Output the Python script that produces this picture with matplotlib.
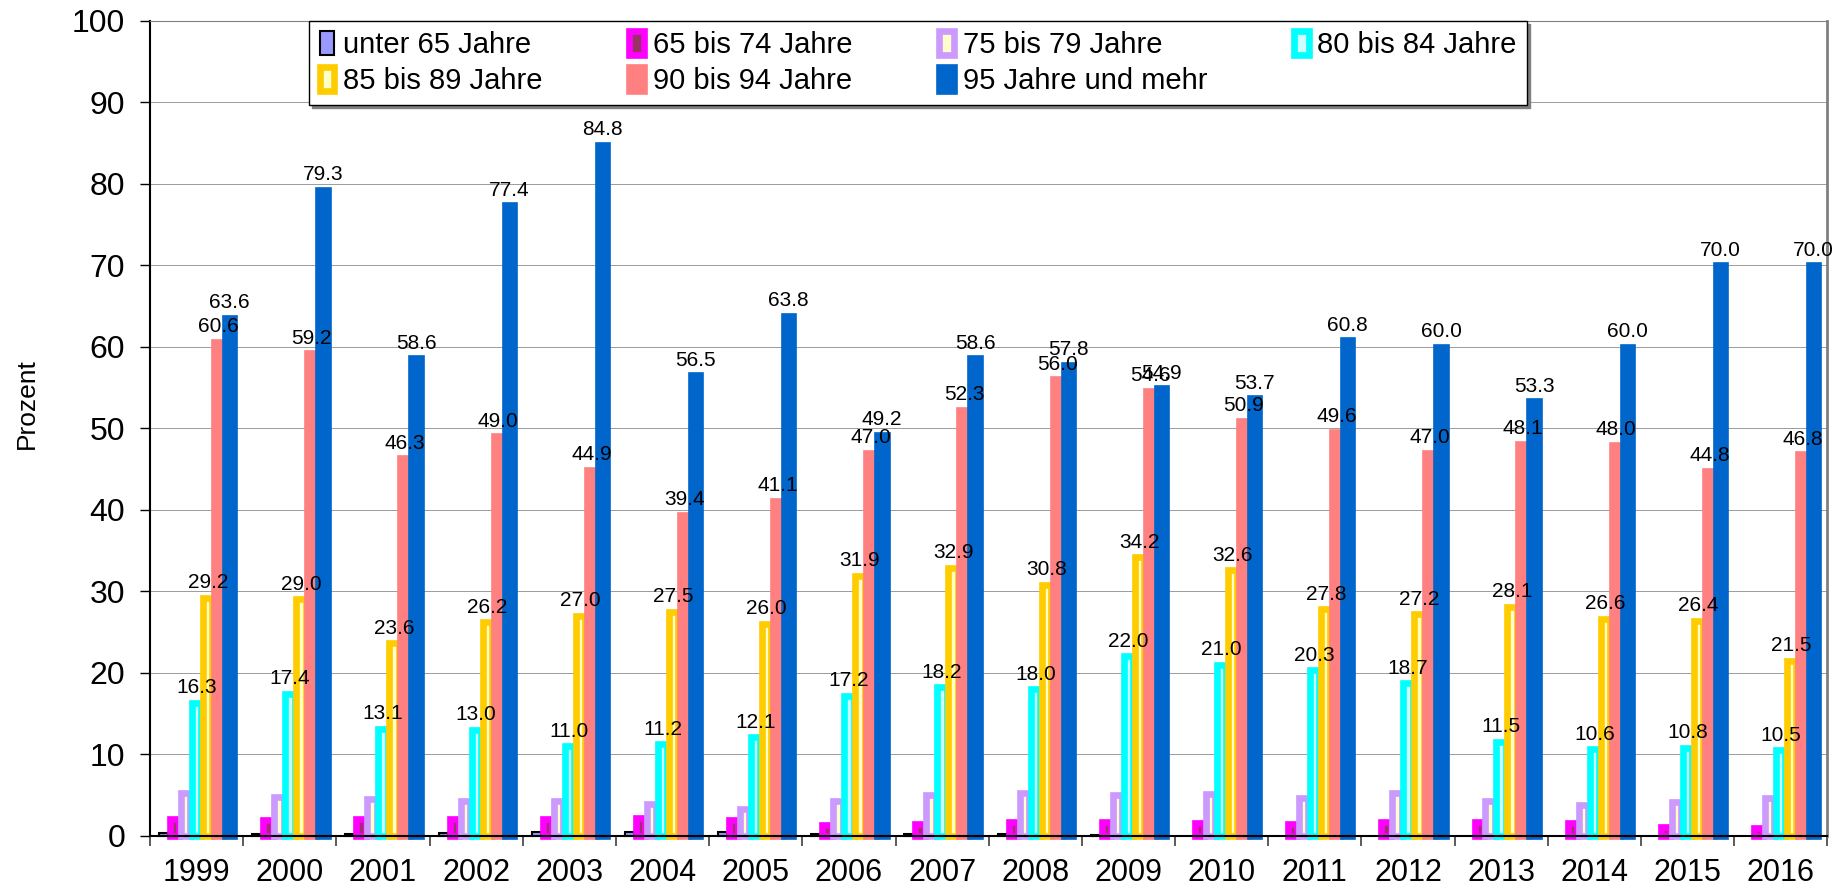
import matplotlib.pyplot as plt
import numpy as np

years = ['1999', '2000', '2001', '2002', '2003', '2004', '2005', '2006', '2007',
         '2008', '2009', '2010', '2011', '2012', '2013', '2014', '2015', '2016']

series_names = ['unter 65 Jahre', '65 bis 74 Jahre', '75 bis 79 Jahre', '80 bis 84 Jahre',
                '85 bis 89 Jahre', '90 bis 94 Jahre', '95 Jahre und mehr']

unter65 = [0.3, 0.2, 0.2, 0.3, 0.4, 0.4, 0.5, 0.2, 0.2, 0.2, 0.1, 0, 0, 0, 0, 0, 0, 0]
a65_74 = [2.1, 1.9, 2.1, 2.1, 2.0, 2.2, 1.9, 1.35, 1.5, 1.7, 1.7, 1.55, 1.5, 1.7, 1.7, 1.55, 1.1, 1.0]
a75_79 = [5.2, 4.7, 4.5, 4.3, 4.3, 3.9, 3.3, 4.3, 5.0, 5.2, 5.0, 5.1, 4.6, 5.2, 4.25, 3.8, 4.1, 4.6]
a80_84 = [16.3, 17.4, 13.1, 13.0, 11.0, 11.2, 12.1, 17.2, 18.2, 18.0, 22.0, 21.0, 20.3, 18.7, 11.5, 10.6, 10.8, 10.5]
a85_89 = [29.2, 29.0, 23.6, 26.2, 27.0, 27.5, 26.0, 31.9, 32.9, 30.8, 34.2, 32.6, 27.8, 27.2, 28.1, 26.6, 26.4, 21.5]
a90_94 = [60.6, 59.2, 46.3, 49.0, 44.9, 39.4, 41.1, 47.0, 52.3, 56.0, 54.6, 50.9, 49.6, 47.0, 48.1, 48.0, 44.8, 46.8]
a95 = [63.6, 79.3, 58.6, 77.4, 84.8, 56.5, 63.8, 49.2, 58.6, 57.8, 54.9, 53.7, 60.8, 60.0, 53.3, 60.0, 70.0, 70.0]

values = [unter65, a65_74, a75_79, a80_84, a85_89, a90_94, a95]
fills = ['#9999FF', '#993366', '#FFFFCC', '#CCFFFF', '#FFFFCC', '#FF8080', '#0066CC']
edges = ['#000000', '#FF00FF', '#CC99FF', '#00FFFF', '#FFCC00', '#FF8080', '#0066CC']
labelled = [False, False, False, True, True, True, True]

fig = plt.figure(figsize=(18.42, 8.91), dpi=100)
ax = fig.add_axes([0.0815, 0.062, 0.9105, 0.9145])

x = np.arange(len(years))
step = 0.118
width = 0.1

bars = []
for i, v in enumerate(values):
    v = np.array(v)
    lw = 1.5 if i == 0 else 4.8
    lws = np.where(v > 0, lw, 0)
    b = ax.bar(x + (i - 3) * step, v, width, color=fills[i], edgecolor=edges[i],
               linewidth=lws, label=series_names[i], clip_on=False, zorder=3)
    bars.append(b)
    if labelled[i]:
        ax.bar_label(b, labels=['%.1f' % t for t in v], padding=4, fontsize=15,
                     family='Liberation Sans', zorder=5)

ax.set_xlim(-0.5, len(years) - 0.5)
ax.set_ylim(0, 100)
ax.set_yticks(range(0, 101, 10))
ax.yaxis.grid(True, color='#8c8c8c', linewidth=0.6, zorder=0)
ax.set_axisbelow(True)

ax.set_xticks(x)
ax.set_xticklabels(years, fontsize=22, family='Liberation Sans')
ax.set_xticks(np.arange(-0.5, len(years), 1), minor=True)
ax.tick_params(axis='x', which='major', length=0, pad=16)
ax.tick_params(axis='x', which='minor', length=7, width=1.2, color='#404040')
ax.tick_params(axis='y', length=7, width=1, labelsize=23, pad=11)
for t in ax.get_yticklabels():
    t.set_family('Liberation Sans')

ax.spines['left'].set_color('black')
ax.spines['bottom'].set_color('black')
ax.spines['left'].set_linewidth(1.5)
ax.spines['bottom'].set_linewidth(1.5)
ax.spines['bottom'].set_zorder(6)
ax.spines['top'].set_color('#808080')
ax.spines['right'].set_color('#808080')
ax.spines['right'].set_linewidth(2)

ax.set_ylabel('Prozent', fontsize=19, family='Liberation Sans', labelpad=24)
ax.yaxis.label.set_y(0.53)

# Legende zeilenweise wie im Original
order = [0, 4, 1, 5, 2, 6, 3]
leg = ax.legend([bars[k] for k in order], [series_names[k] for k in order],
                loc='upper left', bbox_to_anchor=(0.095, 0.896, 0.726, 0.104), mode='expand',
                ncol=4, prop={'family': 'Liberation Sans', 'size': 21},
                handlelength=0.5, handleheight=0.9, handletextpad=0.3, borderpad=0.35,
                labelspacing=0.25, borderaxespad=0, fancybox=False, framealpha=1,
                edgecolor='black', shadow={'color': '#808080', 'alpha': 1})
leg.get_frame().set_linewidth(1)
leg.set_zorder(10)

plt.savefig('out.png', dpi=100)
